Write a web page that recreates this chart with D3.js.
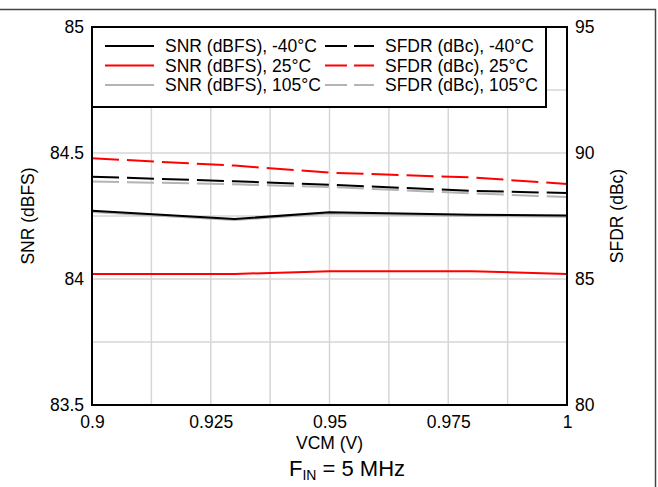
<!DOCTYPE html>
<html>
<head>
<meta charset="utf-8">
<script src="https://cdn.jsdelivr.net/npm/d3@7"></script>
<style>
  html, body { margin: 0; padding: 0; background: #fff; }
  svg { display: block; }
  text { font-family: "Liberation Sans", Arial, sans-serif; fill: #000; }
</style>
</head>
<body>
<svg id="chart" width="658" height="487"></svg>
<script>
// ---- data ----
const vcm = [0.9, 0.93, 0.95, 0.98, 1.0];
const snrM40 = [84.271, 84.238, 84.265, 84.255, 84.252];
const snr25 = [84.020, 84.020, 84.031, 84.031, 84.020];
const snr105 = [84.266, 84.234, 84.260, 84.250, 84.247];
const sfdrM40 = [89.06, 88.88, 88.74, 88.50, 88.41];
const sfdr25 = [89.79, 89.50, 89.22, 89.03, 88.77];
const sfdr105 = [88.87, 88.76, 88.65, 88.40, 88.25];

const xTicks = [0.9, 0.925, 0.95, 0.975, 1];
const xTickLabels = ["0.9", "0.925", "0.95", "0.975", "1"];
const snrTicks = [83.5, 84, 84.5, 85];
const snrTickLabels = ["83.5", "84", "84.5", "85"];
const sfdrTicks = [80, 85, 90, 95];
const sfdrTickLabels = ["80", "85", "90", "95"];

const seriesNames = ["SNR (dBFS), -40°C", "SNR (dBFS), 25°C", "SNR (dBFS), 105°C",
                     "SFDR (dBc), -40°C", "SFDR (dBc), 25°C", "SFDR (dBc), 105°C"];

// ---- layout ----
const L = 92, R = 567, T = 27, B = 405;
const colors = { m40: "#000000", c25: "#ff0000", c105: "#b4b4b4" };
const dash = "27,8";
const fs = 17.5;

const svg = d3.select("#chart");

const x = d3.scaleLinear().domain([0.9, 1.0]).range([L, R]);
const ySnr = d3.scaleLinear().domain([83.5, 85]).range([B, T]);
const ySfdr = d3.scaleLinear().domain([80, 95]).range([B, T]);

// figure border (top & right)
svg.append("line").attr("x1", 0).attr("x2", 656).attr("y1", 9.5).attr("y2", 9.5)
  .attr("stroke", "#444").attr("stroke-width", 1.5);
svg.append("line").attr("x1", 655.5).attr("x2", 655.5).attr("y1", 9).attr("y2", 487)
  .attr("stroke", "#444").attr("stroke-width", 1.5);

// gridlines
const grid = svg.append("g");
d3.range(0, 9).map(i => 0.9 + i * 0.0125).forEach(v => {
  grid.append("line").attr("x1", x(v)).attr("x2", x(v)).attr("y1", T).attr("y2", B)
    .attr("stroke", "#d6d6d6").attr("stroke-width", 1.5);
});
d3.range(0, 7).map(i => 83.5 + i * 0.25).forEach(v => {
  grid.append("line").attr("x1", L).attr("x2", R).attr("y1", ySnr(v)).attr("y2", ySnr(v))
    .attr("stroke", "#d6d6d6").attr("stroke-width", 1.5);
});

// lines
const lineSnr = d3.line().x((d, i) => x(vcm[i])).y(d => ySnr(d));
const lineSfdr = d3.line().x((d, i) => x(vcm[i])).y(d => ySfdr(d));
const lines = svg.append("g").attr("fill", "none").attr("stroke-width", 2);

lines.append("path").attr("d", lineSfdr(sfdr105)).attr("stroke", colors.c105).attr("stroke-dasharray", dash);
lines.append("path").attr("d", lineSfdr(sfdrM40)).attr("stroke", colors.m40).attr("stroke-dasharray", dash);
lines.append("path").attr("d", lineSfdr(sfdr25)).attr("stroke", colors.c25).attr("stroke-dasharray", dash);
lines.append("path").attr("d", lineSnr(snr105)).attr("stroke", colors.c105);
lines.append("path").attr("d", lineSnr(snrM40)).attr("stroke", colors.m40);
lines.append("path").attr("d", lineSnr(snr25)).attr("stroke", colors.c25);

// legend
const lg = svg.append("g");
lg.append("rect").attr("x", L).attr("y", T).attr("width", 546 - L).attr("height", 107 - T)
  .attr("fill", "#fff").attr("stroke", "#000").attr("stroke-width", 2);
const legendItems = [
  { name: seriesNames[0], c: colors.m40, d: null, col: 0, row: 0 },
  { name: seriesNames[1], c: colors.c25, d: null, col: 0, row: 1 },
  { name: seriesNames[2], c: colors.c105, d: null, col: 0, row: 2 },
  { name: seriesNames[3], c: colors.m40, d: "22,7", col: 1, row: 0 },
  { name: seriesNames[4], c: colors.c25, d: "22,7", col: 1, row: 1 },
  { name: seriesNames[5], c: colors.c105, d: "22,7", col: 1, row: 2 }
];
const colX = [105, 325];
const textX = [165, 385];
legendItems.forEach(it => {
  const yy = 46 + it.row * 19.5;
  const ln = lg.append("line").attr("x1", colX[it.col]).attr("x2", colX[it.col] + 49)
    .attr("y1", yy).attr("y2", yy).attr("stroke", it.c).attr("stroke-width", 2);
  if (it.d) ln.attr("stroke-dasharray", it.d);
  lg.append("text").attr("x", textX[it.col]).attr("y", yy).attr("dy", "0.35em")
    .attr("font-size", fs).text(it.name);
});

// plot frame
svg.append("rect").attr("x", L).attr("y", T).attr("width", R - L).attr("height", B - T)
  .attr("fill", "none").attr("stroke", "#000").attr("stroke-width", 2);

// axes (labels only, no tick marks)
const axL = svg.append("g").attr("transform", `translate(${L - 8},0)`)
  .call(d3.axisLeft(ySnr).tickValues(snrTicks).tickSize(0).tickPadding(0)
    .tickFormat((d, i) => snrTickLabels[i]));
const axR = svg.append("g").attr("transform", `translate(${R + 8},0)`)
  .call(d3.axisRight(ySfdr).tickValues(sfdrTicks).tickSize(0).tickPadding(0)
    .tickFormat((d, i) => sfdrTickLabels[i]));
const axB = svg.append("g").attr("transform", `translate(0,${B + 11})`)
  .call(d3.axisBottom(x).tickValues(xTicks).tickSize(0).tickPadding(0)
    .tickFormat((d, i) => xTickLabels[i]));
[axL, axR, axB].forEach(a => {
  a.select(".domain").remove();
  a.selectAll("text").attr("font-size", fs).attr("font-family", "Liberation Sans, Arial, sans-serif").attr("fill", "#000");
});

// axis titles
svg.append("text").attr("x", (L + R) / 2).attr("y", 449).attr("text-anchor", "middle")
  .attr("font-size", fs).text("VCM (V)");
svg.append("text").attr("transform", `translate(34,${(T + B) / 2}) rotate(-90)`)
  .attr("text-anchor", "middle").attr("font-size", fs).text("SNR (dBFS)");
svg.append("text").attr("transform", `translate(623,${(T + B) / 2}) rotate(-90)`)
  .attr("text-anchor", "middle").attr("font-size", fs).text("SFDR (dBc)");

// caption
const cap = svg.append("text").attr("x", 347).attr("y", 476).attr("text-anchor", "middle")
  .attr("font-size", 22);
cap.append("tspan").text("F");
cap.append("tspan").attr("font-size", 14).attr("dy", 4).text("IN");
cap.append("tspan").attr("dy", -4).text(" = 5 MHz");
</script>
</body>
</html>
